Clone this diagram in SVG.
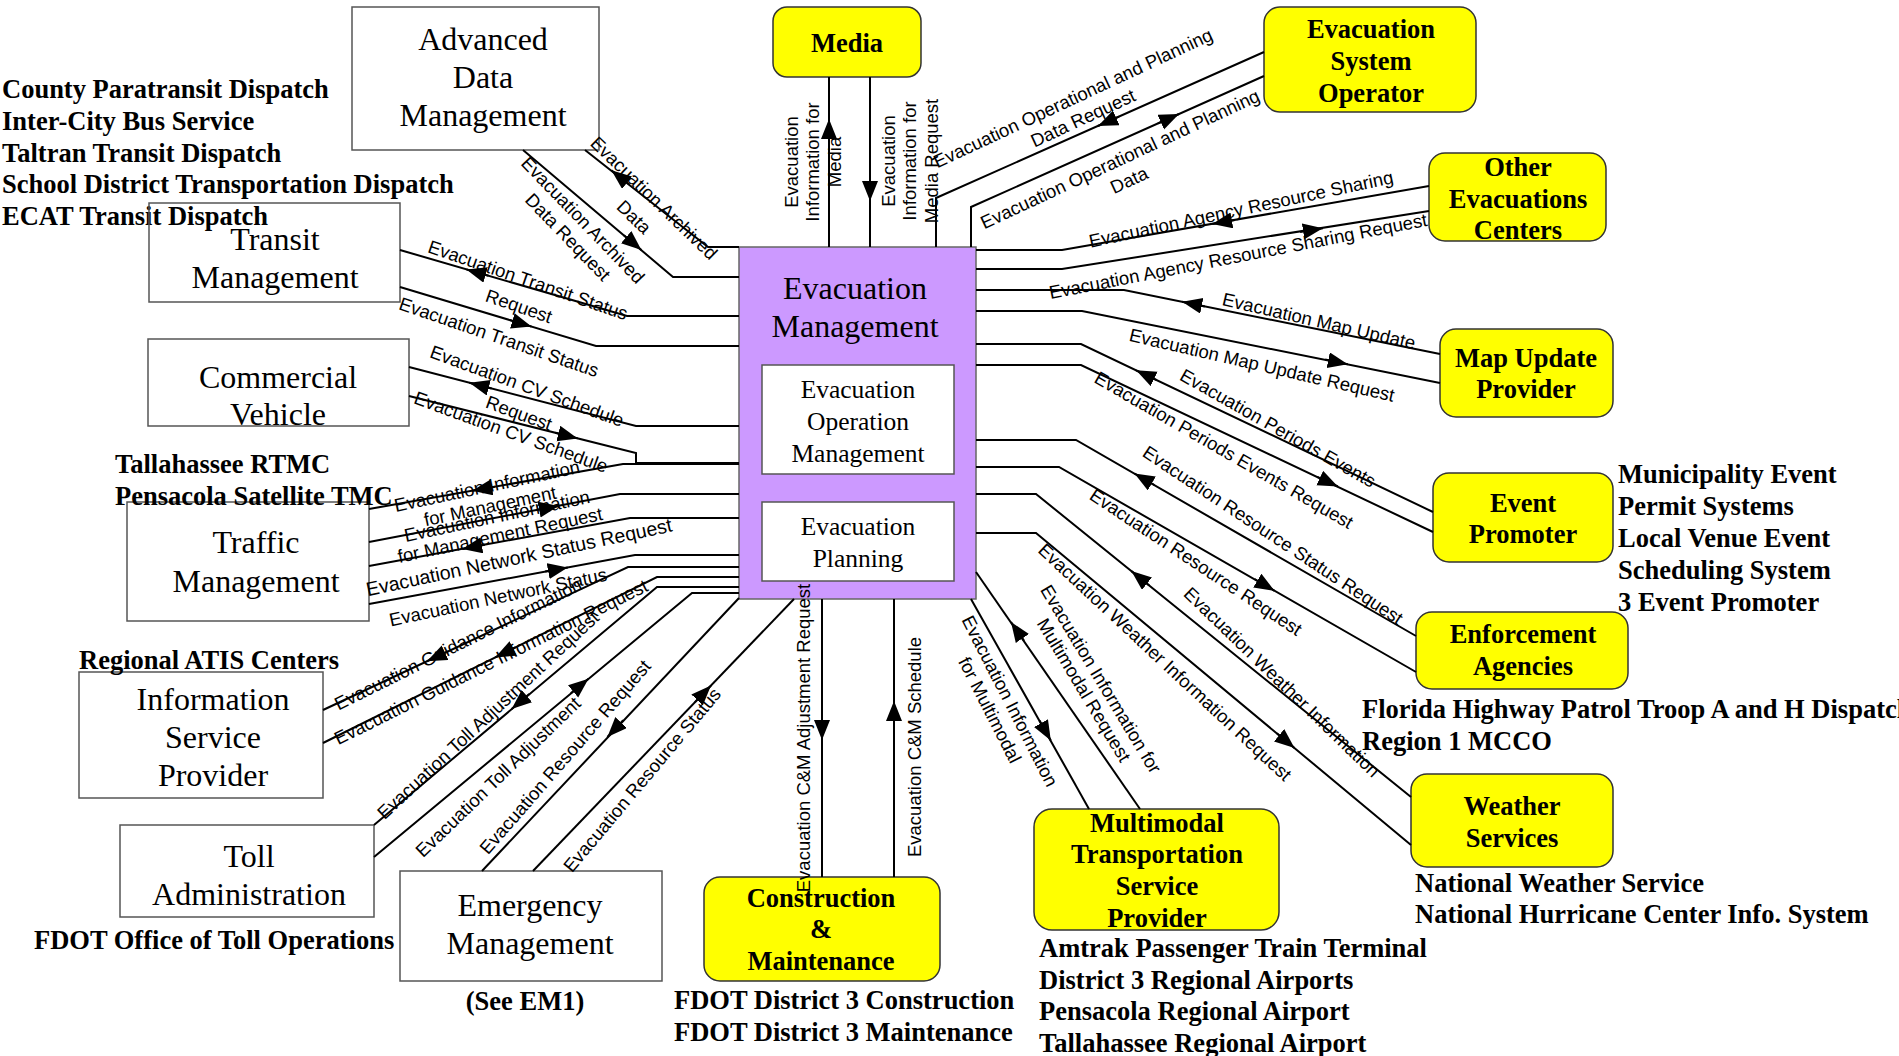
<svg xmlns="http://www.w3.org/2000/svg" width="1899" height="1056" viewBox="0 0 1899 1056">
<style>
.ln{fill:none;stroke:#000;stroke-width:2}
.ar{fill:none;stroke:#000;stroke-width:2;marker-end:url(#ah)}
.lb{font-family:"Liberation Sans",Arial,sans-serif;font-size:18.5px;text-anchor:middle;fill:#000}
.nw{font-family:"Liberation Serif","Times New Roman",serif;font-size:32px;text-anchor:middle;fill:#000}
.ni{font-family:"Liberation Serif","Times New Roman",serif;font-size:25.5px;text-anchor:middle;fill:#000}
.ny{font-family:"Liberation Serif","Times New Roman",serif;font-size:26.5px;font-weight:bold;text-anchor:middle;fill:#000}
.sd{font-family:"Liberation Serif","Times New Roman",serif;font-size:26.5px;font-weight:bold;fill:#000}
.wb{fill:#fff;stroke:#555;stroke-width:1.5}
.yb{fill:#ff0;stroke:#333;stroke-width:1.5}
.pb{fill:#CC99FF;stroke:#666;stroke-width:1.5}
</style>
<defs>
<marker id="ah" markerUnits="userSpaceOnUse" markerWidth="22" markerHeight="18" refX="20" refY="8" orient="auto">
<path d="M0,0 L20,8 L0,16 Z" fill="#000"/>
</marker>
</defs>
<rect width="1899" height="1056" fill="#fff"/>

<g id="evacuation-management">
<rect class="pb" x="739" y="247" width="237" height="352"/>
<text class="nw" x="855" y="299">Evacuation</text>
<text class="nw" x="855" y="337">Management</text>
<rect class="wb" x="762" y="365" width="192" height="109"/>
<text class="ni" x="858" y="398">Evacuation</text>
<text class="ni" x="858" y="430">Operation</text>
<text class="ni" x="858" y="462">Management</text>
<rect class="wb" x="762" y="502" width="192" height="79"/>
<text class="ni" x="858" y="535">Evacuation</text>
<text class="ni" x="858" y="567">Planning</text>
</g>

<g id="advanced-data-management">
<rect class="wb" x="352" y="7" width="247" height="143"/>
<text class="nw" x="483" y="50">Advanced</text>
<text class="nw" x="483" y="88">Data</text>
<text class="nw" x="483" y="126">Management</text>
</g>

<g id="transit-management">
<text class="sd" x="2" y="98">County Paratransit Dispatch</text>
<text class="sd" x="2" y="130">Inter-City Bus Service</text>
<text class="sd" x="2" y="162">Taltran Transit Dispatch</text>
<text class="sd" x="2" y="193">School District Transportation Dispatch</text>
<text class="sd" x="2" y="225">ECAT Transit Dispatch</text>
<rect class="wb" x="149" y="203" width="251" height="99" fill-opacity="0"/>
<text class="nw" x="275" y="250">Transit</text>
<text class="nw" x="275" y="288">Management</text>
</g>

<g id="commercial-vehicle">
<rect class="wb" x="148" y="339" width="261" height="87"/>
<text class="nw" x="278" y="388">Commercial</text>
<text class="nw" x="278" y="425">Vehicle</text>
</g>

<g id="traffic-management">
<rect class="wb" x="127" y="502" width="242" height="119"/>
<text class="nw" x="256" y="553">Traffic</text>
<text class="nw" x="256" y="592">Management</text>
<text class="sd" x="115" y="473">Tallahassee RTMC</text>
<text class="sd" x="115" y="505">Pensacola Satellite TMC</text>
</g>

<g id="information-service-provider">
<rect class="wb" x="79" y="672" width="244" height="126"/>
<text class="nw" x="213" y="710">Information</text>
<text class="nw" x="213" y="748">Service</text>
<text class="nw" x="213" y="786">Provider</text>
<text class="sd" x="79" y="669">Regional ATIS Centers</text>
</g>

<g id="toll-administration">
<rect class="wb" x="120" y="825" width="254" height="92"/>
<text class="nw" x="249" y="867">Toll</text>
<text class="nw" x="249" y="905">Administration</text>
<text class="sd" x="34" y="949">FDOT Office of Toll Operations</text>
</g>

<g id="emergency-management">
<rect class="wb" x="400" y="871" width="262" height="110"/>
<text class="nw" x="530" y="916">Emergency</text>
<text class="nw" x="530" y="954">Management</text>
<text class="ny" x="525" y="1010">(See EM1)</text>
</g>

<g id="construction-maintenance">
<rect class="yb" x="704" y="877" width="236" height="104" rx="16"/>
<text class="ny" x="821" y="907">Construction</text>
<text class="ny" x="821" y="938">&amp;</text>
<text class="ny" x="821" y="970">Maintenance</text>
<text class="sd" x="674" y="1009">FDOT District 3 Construction</text>
<text class="sd" x="674" y="1041">FDOT District 3 Maintenance</text>
</g>

<g id="multimodal-transportation-service-provider">
<rect class="yb" x="1034" y="809" width="245" height="121" rx="18"/>
<text class="ny" x="1157" y="832">Multimodal</text>
<text class="ny" x="1157" y="863">Transportation</text>
<text class="ny" x="1157" y="895">Service</text>
<text class="ny" x="1157" y="927">Provider</text>
<text class="sd" x="1039" y="957">Amtrak Passenger Train Terminal</text>
<text class="sd" x="1039" y="989">District 3 Regional Airports</text>
<text class="sd" x="1039" y="1020">Pensacola Regional Airport</text>
<text class="sd" x="1039" y="1052">Tallahassee Regional Airport</text>
</g>

<g id="weather-services">
<rect class="yb" x="1411" y="774" width="202" height="93" rx="16"/>
<text class="ny" x="1512" y="815">Weather</text>
<text class="ny" x="1512" y="847">Services</text>
<text class="sd" x="1415" y="892">National Weather Service</text>
<text class="sd" x="1415" y="923">National Hurricane Center Info. System</text>
</g>

<g id="enforcement-agencies">
<rect class="yb" x="1416" y="612" width="212" height="77" rx="16"/>
<text class="ny" x="1523" y="643">Enforcement</text>
<text class="ny" x="1523" y="675">Agencies</text>
<text class="sd" x="1362" y="718">Florida Highway Patrol Troop A and H Dispatch</text>
<text class="sd" x="1362" y="750">Region 1 MCCO</text>
</g>

<g id="event-promoter">
<rect class="yb" x="1433" y="473" width="180" height="89" rx="16"/>
<text class="ny" x="1523" y="512">Event</text>
<text class="ny" x="1523" y="543">Promoter</text>
<text class="sd" x="1618" y="483">Municipality Event</text>
<text class="sd" x="1618" y="515">Permit Systems</text>
<text class="sd" x="1618" y="547">Local Venue Event</text>
<text class="sd" x="1618" y="579">Scheduling System</text>
<text class="sd" x="1618" y="611">3 Event Promoter</text>
</g>

<g id="map-update-provider">
<rect class="yb" x="1440" y="329" width="173" height="88" rx="16"/>
<text class="ny" x="1526" y="367">Map Update</text>
<text class="ny" x="1526" y="398">Provider</text>
</g>

<g id="other-evacuations-centers">
<rect class="yb" x="1429" y="153" width="177" height="88" rx="16"/>
<text class="ny" x="1518" y="176">Other</text>
<text class="ny" x="1518" y="208">Evacuations</text>
<text class="ny" x="1518" y="239">Centers</text>
</g>

<g id="evacuation-system-operator">
<rect class="yb" x="1264" y="7" width="212" height="105" rx="16"/>
<text class="ny" x="1371" y="38">Evacuation</text>
<text class="ny" x="1371" y="70">System</text>
<text class="ny" x="1371" y="102">Operator</text>
</g>

<g id="media">
<rect class="yb" x="773" y="7" width="148" height="70" rx="14"/>
<text class="ny" x="847" y="52">Media</text>
</g>

<g id="connectors">
<!-- ADM -->
<g id="c-adm1"><path class="ln" d="M585,150 L708,247 L739,247"/><path class="ar" d="M629.4,184.5 L611.4,170.2"/>
<text class="lb" transform="translate(654,198) rotate(44)" dy=".35em">Evacuation Archived</text>
<text class="lb" transform="translate(634,217) rotate(44)" dy=".35em">Data</text></g>
<g id="c-adm2"><path class="ln" d="M523,150 L673,277 L739,277"/><path class="ar" d="M623.9,235.2 L641.4,250.1"/>
<text class="lb" transform="translate(583,220) rotate(46)" dy=".35em">Evacuation Archived</text>
<text class="lb" transform="translate(568,237) rotate(46)" dy=".35em">Data Request</text></g>
<!-- Transit -->
<g id="c-tm1"><path class="ln" d="M400,250 L627,316 L739,316"/><path class="ar" d="M488.5,275.8 L466.4,269.4"/>
<text class="lb" transform="translate(528,280) rotate(19)" dy=".35em">Evacuation Transit Status</text>
<text class="lb" transform="translate(519,306) rotate(19)" dy=".35em">Request</text></g>
<g id="c-tm2"><path class="ln" d="M400,287 L596,346 L739,346"/><path class="ar" d="M509.5,320 L531.5,326.6"/>
<text class="lb" transform="translate(499,337) rotate(19)" dy=".35em">Evacuation Transit Status</text></g>
<!-- CV -->
<g id="c-cv1"><path class="ln" d="M409,367 L636,426 L739,426"/><path class="ar" d="M491.6,388.5 L469.4,382.7"/>
<text class="lb" transform="translate(527,386) rotate(20)" dy=".35em">Evacuation CV Schedule</text>
<text class="lb" transform="translate(519,413) rotate(20)" dy=".35em">Request</text></g>
<g id="c-cv2"><path class="ln" d="M409,396 L636,453 L636,463 L739,463"/><path class="ar" d="M555.4,432.8 L577.7,438.4"/>
<text class="lb" transform="translate(511,432) rotate(20)" dy=".35em">Evacuation CV Schedule</text></g>
<!-- Traffic -->
<g id="c-tf1"><path class="ln" d="M369,509 L623,464 L739,464"/><path class="ar" d="M494.8,486.8 L472.2,490.8"/>
<text class="lb" transform="translate(487,486) rotate(-12)" dy=".35em">Evacuation Information</text>
<text class="lb" transform="translate(490,506) rotate(-12)" dy=".35em">for Management</text></g>
<g id="c-tf2"><path class="ln" d="M369,542 L620,494 L739,494"/><path class="ar" d="M536.2,510.1 L558.8,505.9"/>
<text class="lb" transform="translate(497,516) rotate(-12)" dy=".35em">Evacuation Information</text>
<text class="lb" transform="translate(500,535) rotate(-12)" dy=".35em">for Management Request</text></g>
<g id="c-tf3"><path class="ln" d="M369,566 L630,518 L739,518"/><path class="ar" d="M484.8,544.8 L462.2,549"/>
<text class="lb" transform="translate(519,557) rotate(-12)" dy=".35em" style="font-size:19.5px">Evacuation Network Status Request</text></g>
<g id="c-tf4"><path class="ln" d="M369,604 L635,555 L739,555"/><path class="ar" d="M545.2,571.6 L567.8,567.4"/>
<text class="lb" transform="translate(498,597) rotate(-12)" dy=".35em">Evacuation Network Status</text></g>
<!-- ISP -->
<g id="c-isp1"><path class="ln" d="M323,710 L628,567 L739,567"/><path class="ar" d="M447.9,651.4 L427,661.2"/>
<text class="lb" transform="translate(458,644) rotate(-26.5)" dy=".35em">Evacuation Guidance Information</text></g>
<g id="c-isp2"><path class="ln" d="M323,743 L657,577 L739,577"/><path class="ar" d="M515.7,647.2 L495.2,657.4"/>
<text class="lb" transform="translate(491,662) rotate(-26.5)" dy=".35em">Evacuation Guidance Information Request</text></g>
<!-- Toll -->
<g id="c-ta1"><path class="ln" d="M374,825 L657,587 L739,587"/><path class="ar" d="M529.2,694.1 L511.6,708.9"/>
<text class="lb" transform="translate(488,715) rotate(-43)" dy=".35em">Evacuation Toll Adjustment Request</text></g>
<g id="c-ta2"><path class="ln" d="M374,857 L692,593 L739,593"/><path class="ar" d="M570.8,693.3 L588.5,678.7"/>
<text class="lb" transform="translate(498,777) rotate(-44)" dy=".35em">Evacuation Toll Adjustment</text></g>
<!-- Emergency -->
<g id="c-em1"><path class="ln" d="M482,871 L739,598"/><path class="ar" d="M623.2,720.3 L607.4,737"/>
<text class="lb" transform="translate(565,757) rotate(-49)" dy=".35em">Evacuation Resource Request</text></g>
<g id="c-em2"><path class="ln" d="M533,871 L794,599"/><path class="ar" d="M695,702.1 L711,685.6"/>
<text class="lb" transform="translate(642,780) rotate(-50)" dy=".35em">Evacuation Resource Status</text></g>
<!-- C&M -->
<g id="c-cm1"><path class="ln" d="M822,599 L822,877"/><path class="ar" d="M822,717 L822,740"/>
<text class="lb" transform="translate(804,738) rotate(-90)" dy=".35em">Evacuation C&amp;M Adjustment Request</text></g>
<g id="c-cm2"><path class="ln" d="M894,599 L894,877"/><path class="ar" d="M894,722 L894,701"/>
<text class="lb" transform="translate(915,747) rotate(-90)" dy=".35em">Evacuation C&amp;M Schedule</text></g>
<!-- Multimodal -->
<g id="c-mt1"><path class="ln" d="M971,599 L1089,809"/><path class="ar" d="M1039.5,720.5 L1050.8,740.6"/>
<text class="lb" transform="translate(1010,701) rotate(63)" dy=".35em">Evacuation Information</text>
<text class="lb" transform="translate(990,710) rotate(63)" dy=".35em">for Multimodal</text></g>
<g id="c-mt2"><path class="ln" d="M976,572 L1140,809"/><path class="ar" d="M1024.1,640.9 L1011,622"/>
<text class="lb" transform="translate(1101,679) rotate(59)" dy=".35em">Evacuation Information for</text>
<text class="lb" transform="translate(1084,690) rotate(59)" dy=".35em">Multimodal Request</text></g>
<!-- Weather -->
<g id="c-ws1"><path class="ln" d="M976,494 L1036,494 L1411,797"/><path class="ar" d="M1149.3,585.5 L1131.4,571.1"/>
<text class="lb" transform="translate(1282,682) rotate(44)" dy=".35em">Evacuation Weather Information</text></g>
<g id="c-ws2"><path class="ln" d="M976,533 L1036,533 L1411,845"/><path class="ar" d="M1276.8,733.3 L1294.5,748"/>
<text class="lb" transform="translate(1165,662) rotate(43)" dy=".35em">Evacuation Weather Information Request</text></g>
<!-- Enforcement -->
<g id="c-ea1"><path class="ln" d="M976,440 L1076,440 L1416,636"/><path class="ar" d="M1154.4,485 L1134.5,473.5"/>
<text class="lb" transform="translate(1273,535) rotate(33.5)" dy=".35em">Evacuation Resource Status Request</text></g>
<g id="c-ea2"><path class="ln" d="M976,467 L1059,467 L1416,672"/><path class="ar" d="M1254.6,579 L1274.5,590.8"/>
<text class="lb" transform="translate(1196,562) rotate(33.5)" dy=".35em">Evacuation Resource Request</text></g>
<!-- Event Promoter -->
<g id="c-ep1"><path class="ln" d="M976,344 L1081,344 L1433,512"/><path class="ar" d="M1156.8,380.2 L1136.1,370.3"/>
<text class="lb" transform="translate(1278,428) rotate(29.5)" dy=".35em">Evacuation Periods Events</text></g>
<g id="c-ep2"><path class="ln" d="M976,365 L1081,365 L1433,532"/><path class="ar" d="M1317.2,476.9 L1337.9,486.5"/>
<text class="lb" transform="translate(1224,450) rotate(30)" dy=".35em">Evacuation Periods Events Request</text></g>
<!-- Map Update -->
<g id="c-mu1"><path class="ln" d="M976,290 L1124,290 L1440,354"/><path class="ar" d="M1204.8,306.4 L1182.2,301.8"/>
<text class="lb" transform="translate(1319,321) rotate(13)" dy=".35em">Evacuation Map Update</text></g>
<g id="c-mu2"><path class="ln" d="M976,311 L1082,311 L1440,383"/><path class="ar" d="M1325.2,359.6 L1347.8,364.2"/>
<text class="lb" transform="translate(1262,365) rotate(13)" dy=".35em">Evacuation Map Update Request</text></g>
<!-- Other Evacuation Centers -->
<g id="c-oe1"><path class="ln" d="M976,250 L1062,250 L1429,186"/><path class="ar" d="M1234.8,219.9 L1212.2,223.9"/>
<text class="lb" transform="translate(1241,209) rotate(-12)" dy=".35em">Evacuation Agency Resource Sharing</text></g>
<g id="c-oe2"><path class="ln" d="M976,269 L1062,269 L1429,211"/><path class="ar" d="M1300.1,231.9 L1322.9,228.3"/>
<text class="lb" transform="translate(1238,256) rotate(-11)" dy=".35em">Evacuation Agency Resource Sharing Request</text></g>
<!-- Media -->
<g id="c-md1"><path class="ln" d="M829,77 L829,247"/><path class="ar" d="M829,142 L829,119"/>
<text class="lb" transform="translate(792,162) rotate(-90)" dy=".35em">Evacuation</text>
<text class="lb" transform="translate(813,162) rotate(-90)" dy=".35em">Information for</text>
<text class="lb" transform="translate(835,162) rotate(-90)" dy=".35em">Media</text></g>
<g id="c-md2"><path class="ln" d="M870,77 L870,247"/><path class="ar" d="M870,178 L870,201"/>
<text class="lb" transform="translate(889,161) rotate(-90)" dy=".35em">Evacuation</text>
<text class="lb" transform="translate(910,161) rotate(-90)" dy=".35em">Information for</text>
<text class="lb" transform="translate(932,161) rotate(-90)" dy=".35em">Media Request</text></g>
<!-- Evacuation System Operator -->
<g id="c-es1"><path class="ln" d="M936,247 L936,198 L1264,52"/><path class="ar" d="M1119,116.6 L1098,126"/>
<text class="lb" transform="translate(1073,98) rotate(-25)" dy=".35em">Evacuation Operational and Planning</text>
<text class="lb" transform="translate(1083,118) rotate(-25)" dy=".35em">Data Request</text></g>
<g id="c-es2"><path class="ln" d="M971,247 L971,207 L1264,76"/><path class="ar" d="M1158,123.4 L1179,114"/>
<text class="lb" transform="translate(1120,159) rotate(-25)" dy=".35em">Evacuation Operational and Planning</text>
<text class="lb" transform="translate(1129,180) rotate(-25)" dy=".35em">Data</text></g>
</g>
</svg>
